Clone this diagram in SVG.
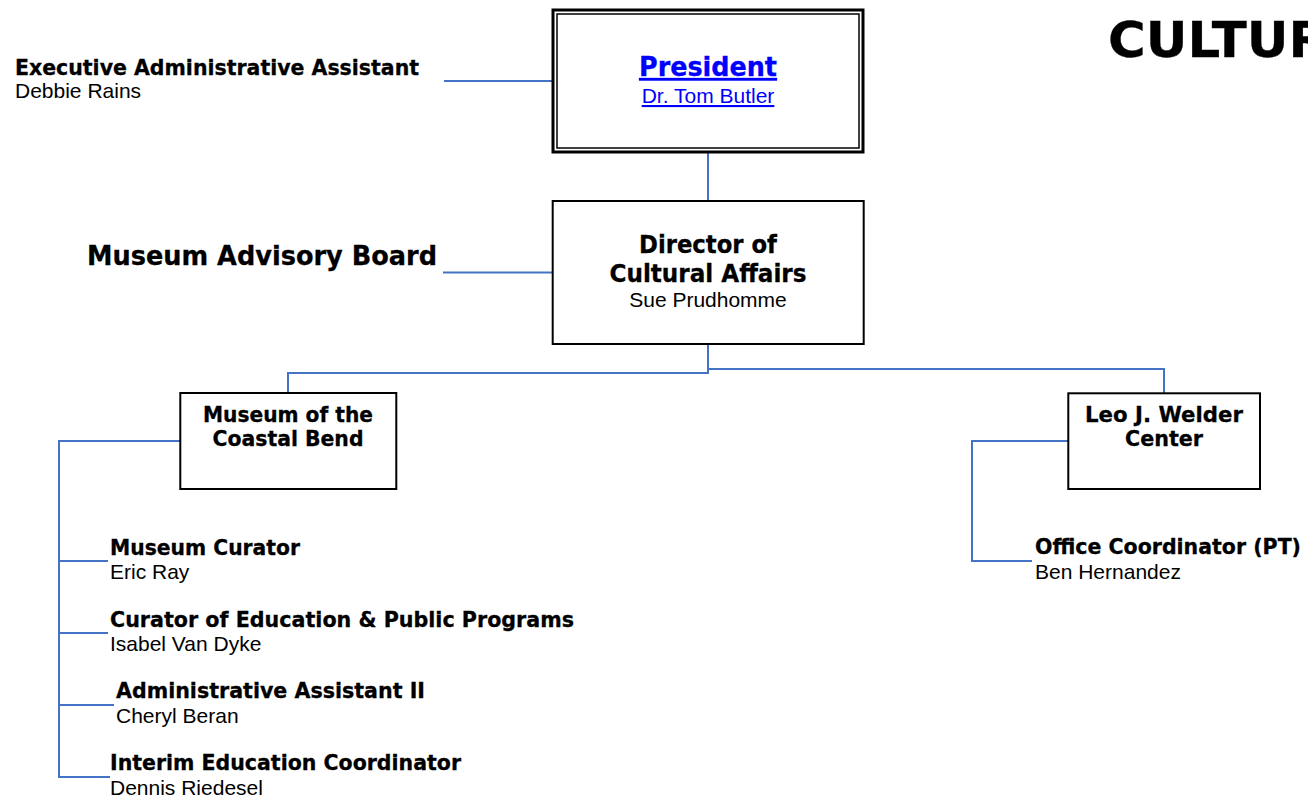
<svg xmlns="http://www.w3.org/2000/svg" width="1308" height="801" viewBox="0 0 1308 801">
<style>
.b { font-family: 'DejaVu Sans', 'Liberation Sans', sans-serif; font-weight: bold; fill: #000; stroke: #000; stroke-width: 0.3; }
.r { font-family: 'Liberation Sans', Arial, sans-serif; font-size: 21px; fill: #000; }
.h { font-size: 21px; }
.box { fill: #fff; stroke: #000; stroke-width: 2; }
.conn { fill: none; stroke: #4472C4; stroke-width: 2; }
.link { fill: #0000FF; text-decoration: underline; }
.b.link { stroke: #0000FF; }
</style>
<rect width="1308" height="801" fill="#fff"/>

<g id="connectors">
  <line class="conn" x1="444" y1="81" x2="552" y2="81"/>
  <line class="conn" x1="443" y1="272.5" x2="552" y2="272.5"/>
  <line class="conn" x1="708" y1="153" x2="708" y2="200"/>
  <polyline class="conn" points="708,345 708,373 288,373 288,393"/>
  <polyline class="conn" points="708,369 1164,369 1164,393"/>
  <polyline class="conn" points="180,441 59,441 59,777 110,777"/>
  <line class="conn" x1="59" y1="561" x2="108" y2="561"/>
  <line class="conn" x1="59" y1="633" x2="108" y2="633"/>
  <line class="conn" x1="59" y1="705" x2="114" y2="705"/>
  <polyline class="conn" points="1068,441 972,441 972,561 1032,561"/>
</g>

<g id="title">
  <text class="b" x="1108" y="57" font-size="49" stroke-width="1.4" textLength="220" lengthAdjust="spacingAndGlyphs">CULTUR</text>
</g>

<g id="exec-assistant">
  <text class="b h" x="15" y="75" textLength="404" lengthAdjust="spacingAndGlyphs">Executive Administrative Assistant</text>
  <text class="r" x="15" y="98">Debbie Rains</text>
</g>

<g id="president">
  <rect x="553" y="10" width="310" height="142" fill="#fff" stroke="#000" stroke-width="3"/>
  <rect x="557" y="14" width="302" height="134" fill="none" stroke="#000" stroke-width="1.5"/>
  <text class="b link" x="708" y="76" font-size="26" text-anchor="middle" textLength="138" lengthAdjust="spacingAndGlyphs">President</text>
  <text class="r link" x="708" y="103" text-anchor="middle">Dr. Tom Butler</text>
</g>

<g id="advisory-board">
  <text class="b" x="87" y="265" font-size="26.5" stroke-width="0.6" textLength="350" lengthAdjust="spacingAndGlyphs">Museum Advisory Board</text>
</g>

<g id="director">
  <rect class="box" x="552.7" y="201" width="311" height="143"/>
  <text class="b" x="708" y="253" font-size="24" text-anchor="middle" textLength="138" lengthAdjust="spacingAndGlyphs">Director of</text>
  <text class="b" x="708" y="282" font-size="24" text-anchor="middle" textLength="197" lengthAdjust="spacingAndGlyphs">Cultural Affairs</text>
  <text class="r" x="708" y="307" text-anchor="middle">Sue Prudhomme</text>
</g>

<g id="museum-coastal-bend">
  <rect class="box" x="180.3" y="393" width="216" height="96"/>
  <text class="b h" x="288" y="422" text-anchor="middle" textLength="170" lengthAdjust="spacingAndGlyphs">Museum of the</text>
  <text class="b h" x="288" y="446" text-anchor="middle" textLength="151" lengthAdjust="spacingAndGlyphs">Coastal Bend</text>
</g>

<g id="leo-welder-center">
  <rect class="box" x="1068.3" y="393.3" width="191.7" height="95.7"/>
  <text class="b h" x="1164" y="422" text-anchor="middle" textLength="158" lengthAdjust="spacingAndGlyphs">Leo J. Welder</text>
  <text class="b h" x="1164" y="446" text-anchor="middle" textLength="78" lengthAdjust="spacingAndGlyphs">Center</text>
</g>

<g id="museum-curator">
  <text class="b h" x="110" y="555" textLength="190" lengthAdjust="spacingAndGlyphs">Museum Curator</text>
  <text class="r" x="110" y="579">Eric Ray</text>
</g>

<g id="curator-education">
  <text class="b h" x="110" y="627" textLength="464" lengthAdjust="spacingAndGlyphs">Curator of Education &amp; Public Programs</text>
  <text class="r" x="110" y="651">Isabel Van Dyke</text>
</g>

<g id="admin-assistant">
  <text class="b h" x="116" y="698" textLength="309" lengthAdjust="spacingAndGlyphs">Administrative Assistant II</text>
  <text class="r" x="116" y="723">Cheryl Beran</text>
</g>

<g id="education-coordinator">
  <text class="b h" x="110" y="770" textLength="351" lengthAdjust="spacingAndGlyphs">Interim Education Coordinator</text>
  <text class="r" x="110" y="795">Dennis Riedesel</text>
</g>

<g id="office-coordinator">
  <text class="b h" x="1035" y="554" textLength="266" lengthAdjust="spacingAndGlyphs">Office Coordinator (PT)</text>
  <text class="r" x="1035" y="579">Ben Hernandez</text>
</g>
</svg>
